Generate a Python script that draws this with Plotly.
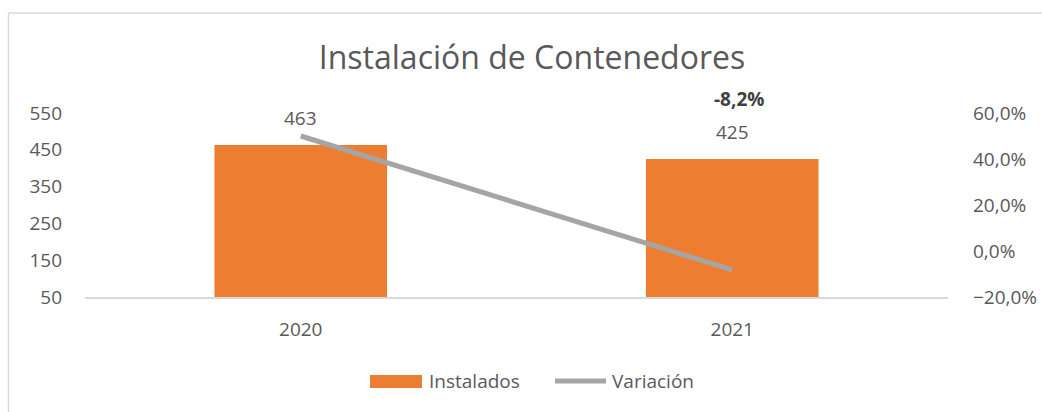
import plotly.graph_objects as go

# Chart data
years = ["2020", "2021"]
instalados = [463, 425]
variacion = [0.50, -0.082]

BAR_COLOR = "#ED7D31"
LINE_COLOR = "#A5A5A5"
TEXT_COLOR = "#595959"
AXIS_COLOR = "#D9D9D9"
FONT = "Open Sans"

W, H = 1042, 412
L, R, T, B = 85, 94, 113, 115
pw, ph = W - L - R, H - T - B


def px_x(x):
    return (x - L) / pw


def px_y(y):
    return (H - B - y) / ph


fig = go.Figure()

fig.add_trace(go.Bar(
    x=years, y=instalados, name="Instalados",
    marker=dict(color=BAR_COLOR, line=dict(width=0)),
    width=0.4, yaxis="y", showlegend=False,
))

fig.add_trace(go.Scatter(
    x=years, y=variacion, name="Variación", mode="lines",
    line=dict(color=LINE_COLOR, width=5), yaxis="y2", showlegend=False,
))

annotations = []
# value labels above bars (category index used for x)
for i, v in enumerate(instalados):
    annotations.append(dict(
        x=i, y=v, xref="x", yref="y", text=f"{v}", showarrow=False,
        yanchor="bottom", yshift=12, font=dict(size=19, color=TEXT_COLOR, family=FONT),
    ))
# bold variation label for the last year
last_var = f"{variacion[-1]*100:.1f}%".replace(".", ",")
annotations.append(dict(
    x=len(years) - 1, y=px_y(99), xref="x", yref="paper", text=f"<b>{last_var}</b>",
    showarrow=False, xshift=7, yanchor="middle",
    font=dict(size=19, color="#404040", family=FONT),
))

# legend drawn as shapes and text
annotations += [
    dict(x=px_x(427), y=px_y(381), xref="paper", yref="paper", text="Instalados",
         showarrow=False, xanchor="left", yanchor="middle",
         font=dict(size=19, color=TEXT_COLOR, family=FONT)),
    dict(x=px_x(610), y=px_y(381), xref="paper", yref="paper", text="Variación",
         showarrow=False, xanchor="left", yanchor="middle",
         font=dict(size=19, color=TEXT_COLOR, family=FONT)),
]

shapes = [
    # frame: top and left edges
    dict(type="line", xref="paper", yref="paper", x0=px_x(8.5), x1=px_x(1042),
         y0=px_y(13), y1=px_y(13), line=dict(color=AXIS_COLOR, width=1.5)),
    dict(type="line", xref="paper", yref="paper", x0=px_x(8.5), x1=px_x(8.5),
         y0=px_y(13), y1=px_y(412), line=dict(color=AXIS_COLOR, width=1.5)),
    # legend swatches
    dict(type="rect", xref="paper", yref="paper", x0=px_x(370), x1=px_x(422),
         y0=px_y(375), y1=px_y(388), fillcolor=BAR_COLOR, line=dict(width=0)),
    dict(type="line", xref="paper", yref="paper", x0=px_x(555), x1=px_x(606),
         y0=px_y(381), y1=px_y(381), line=dict(color=LINE_COLOR, width=5)),
]

fig.update_layout(
    width=W, height=H,
    margin=dict(l=L, r=R, t=T, b=B, pad=0, autoexpand=False),
    paper_bgcolor="white", plot_bgcolor="white",
    separators=",.",
    title=dict(text="Instalación de Contenedores", x=532 / W,
               xanchor="center", y=1 - 58 / H, yanchor="middle",
               font=dict(size=32, color=TEXT_COLOR, family=FONT)),
    font=dict(family=FONT, color=TEXT_COLOR, size=19),
    xaxis=dict(type="category", showgrid=False, showline=True, linecolor=AXIS_COLOR,
               linewidth=1.5, ticks="", tickfont=dict(size=19, color=TEXT_COLOR),
               ticklabelstandoff=14, range=[-0.5, 1.5], automargin=False),
    yaxis=dict(range=[50, 550], tick0=50, dtick=100, showgrid=False, showline=False,
               zeroline=False, ticks="", tickfont=dict(size=19, color=TEXT_COLOR),
               ticklabelstandoff=22, automargin=False),
    yaxis2=dict(range=[-0.2, 0.6], tick0=-0.2, dtick=0.2, overlaying="y", side="right",
                tickformat=".1%", showgrid=False, showline=False, zeroline=False,
                ticks="", tickfont=dict(size=19, color=TEXT_COLOR), ticklabelstandoff=24,
                automargin=False),
    annotations=annotations,
    shapes=shapes,
)

fig.write_html("out.html")
